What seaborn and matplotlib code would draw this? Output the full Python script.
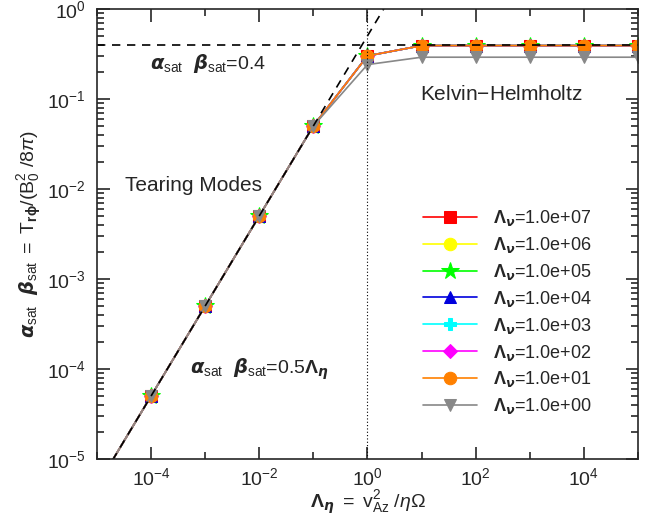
import numpy as np
import matplotlib
matplotlib.use("Agg")
import matplotlib.pyplot as plt
import seaborn as sns
import pandas as pd
from matplotlib.ticker import LogLocator, NullFormatter

sns.set_style("ticks")
plt.rcParams['font.family'] = ['Liberation Sans', 'DejaVu Sans']
plt.rcParams['mathtext.fontset'] = 'custom'
plt.rcParams['mathtext.rm'] = 'Liberation Sans'
plt.rcParams['mathtext.it'] = 'Liberation Sans:italic'
plt.rcParams['mathtext.bf'] = 'Liberation Sans:bold'

lambda_eta = [1e-5, 1e-4, 1e-3, 1e-2, 1e-1, 1e0, 1e1, 1e2, 1e3, 1e4, 1e5]
labels = ["1.0e+07", "1.0e+06", "1.0e+05", "1.0e+04", "1.0e+03", "1.0e+02", "1.0e+01", "1.0e+00"]
colors = ["#ff0000", "#ffff00", "#00ff00", "#0000dd", "#00ffff", "#ff00ff", "#ff8000", "#888888"]
markers = ["s", "o", "*", "^", "P", "D", "o", "v"]
msizes = [9, 9, 13, 9, 9, 7, 9, 9]
stress_default = [5e-6, 5e-5, 5e-4, 5e-3, 5e-2, 0.30, 0.39, 0.39, 0.39, 0.39, 0.39]
stress_gray = [5e-6, 5e-5, 5e-4, 5e-3, 5e-2, 0.24, 0.29, 0.29, 0.29, 0.29, 0.29]
series = [stress_default] * 7 + [stress_gray]

fig = plt.figure(figsize=(6.57, 5.18), dpi=100)
ax = fig.add_axes([0.1476, 0.114, 0.8234, 0.869])

for lab, c, m, ms, ys in zip(labels, colors, markers, msizes, series):
    df = pd.DataFrame({"x": lambda_eta, "y": ys})
    sns.lineplot(data=df, x="x", y="y", ax=ax, color=c, marker=m, markersize=ms,
                 markeredgecolor=c, linewidth=1.2,
                 label=r"$\mathbf{\Lambda}_{\boldsymbol{\nu}}$=" + lab, clip_on=True)

xx = np.array([1e-5, 1e5])
ax.plot(xx, 0.5 * xx, color="black", linestyle=(0, (5, 4)), linewidth=1.2)
ax.axhline(0.4, color="black", linestyle=(0, (5, 4)), linewidth=1.2)
ax.axvline(1.0, color="black", linestyle=(0, (1, 2)), linewidth=0.8)

ax.set_xscale("log")
ax.set_yscale("log")
ax.set_xlim(1e-5, 1e5)
ax.set_ylim(1e-5, 1e0)

ax.xaxis.set_major_locator(LogLocator(base=100.0, numticks=10))
ax.xaxis.set_minor_locator(LogLocator(base=10.0, numticks=20))
ax.xaxis.set_minor_formatter(NullFormatter())
ax.yaxis.set_major_locator(LogLocator(base=10.0, numticks=10))
ax.yaxis.set_minor_locator(LogLocator(base=10.0, subs=np.arange(2, 10), numticks=20))
ax.yaxis.set_minor_formatter(NullFormatter())
ax.tick_params(which="both", direction="in", top=True, right=True, labelsize=14, width=1.2)
ax.tick_params(which="major", length=9)
ax.tick_params(which="minor", length=5)
ax.tick_params(axis="x", which="both", pad=6)
ax.tick_params(axis="y", which="both", pad=8)
for s in ax.spines.values():
    s.set_linewidth(1.2)

ax.set_xlabel(r"$\mathbf{\Lambda}_{\boldsymbol{\eta}}\ =\ \mathrm{v}_{\mathrm{Az}}^{2}\ /\eta\Omega$", fontsize=14, labelpad=0)
ax.set_ylabel(r"$\boldsymbol{\alpha}_{\mathrm{sat}}\ \ \boldsymbol{\beta}_{\mathrm{sat}}\ =\ \mathrm{T}_{\mathbf{r\phi}}/(\mathrm{B}_0^2\ /8\pi)$", fontsize=14, labelpad=2)

ax.text(9.5e-5, 0.245, r"$\boldsymbol{\alpha}_{\mathrm{sat}}\ \ \boldsymbol{\beta}_{\mathrm{sat}}$=0.4", fontsize=14, va="center")
ax.text(9.3, 0.111, "Kelvin$-$Helmholtz", fontsize=15, va="center")
ax.text(3.3e-5, 0.011, "Tearing Modes", fontsize=15, va="center")
ax.text(5.2e-4, 9.8e-5, r"$\boldsymbol{\alpha}_{\mathrm{sat}}\ \ \boldsymbol{\beta}_{\mathrm{sat}}$=0.5$\mathbf{\Lambda}_{\boldsymbol{\eta}}$", fontsize=14, va="center")

leg = ax.legend(loc="upper left", bbox_to_anchor=(0.602, 0.557), frameon=False, fontsize=13,
                handlelength=3.0, labelspacing=0.38, handletextpad=0.9,
                borderaxespad=0, borderpad=0)

fig.savefig("out.png", dpi=100)
